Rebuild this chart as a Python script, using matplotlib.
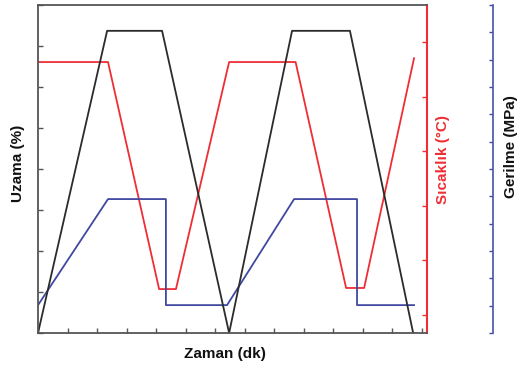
import numpy as np
import matplotlib
matplotlib.use('Agg')
import matplotlib.pyplot as plt

plt.rcParams['font.family'] = ['Liberation Sans', 'DejaVu Sans']

# Uzama (strain), left axis
uzama_t = [0, 2.34, 4.20, 6.47, 8.60, 10.56, 12.70]
uzama = [0, 7.37, 7.37, 0, 7.37, 7.37, 0]

# Sicaklik (temperature), red axis
sicaklik_t = [0, 2.37, 4.10, 4.67, 6.47, 8.72, 10.43, 11.04, 12.73]
sicaklik = [112.7, 112.7, 29.5, 29.5, 112.7, 112.7, 29.9, 29.9, 114.1]

# Gerilme (stress), blue axis
gerilme_t = [0, 2.37, 4.33, 4.33, 6.40, 8.67, 10.80, 10.80, 12.73]
gerilme = [1.02, 4.90, 4.90, 1.02, 1.02, 4.90, 4.90, 1.02, 1.02]

black = '#2b2b2b'
red = '#ee2e34'
blue = '#4048a0'
frame = '#555555'

W, H = 518, 367
fig = plt.figure(figsize=(W / 100, H / 100), dpi=100)
left, right, top, bottom = 38, 427, 5, 333
ax = fig.add_axes([left / W, 1 - bottom / H, (right - left) / W, (bottom - top) / H])

ax.plot(uzama_t, uzama, color=black, lw=1.3)
ax.set_xlim(0, (right - left) / 29.54)
ax.set_ylim(0, 8)
ax.set_xticks(np.arange(0, 14))
ax.set_yticks(np.arange(0, 9))
ax.tick_params(direction='in', length=3.5, width=1, color=frame,
               labelleft=False, labelbottom=False, right=False, top=False)
for s in ['left', 'bottom', 'top']:
    ax.spines[s].set_color(frame)
    ax.spines[s].set_linewidth(1.3)
ax.spines['right'].set_visible(False)

# red axis
ax2 = ax.twinx()
ax2.plot(sicaklik_t, sicaklik, color=red, lw=1.3)
ax2.set_ylim(13.4, 133.6)
ax2.set_yticks(np.arange(20, 121, 20))
ax2.tick_params(direction='in', length=3.5, width=1, color=red, labelright=False)
for s in ['left', 'bottom', 'top']:
    ax2.spines[s].set_visible(False)
ax2.spines['right'].set_color(red)
ax2.spines['right'].set_linewidth(1.5)

# blue axis
ax3 = ax.twinx()
ax3.plot(gerilme_t, gerilme, color=blue, lw=1.3)
ax3.set_ylim(0, 12)
ax3.set_yticks(np.arange(0, 13))
ax3.spines['right'].set_position(('axes', (493 - left) / (right - left)))
ax3.tick_params(direction='in', length=3, width=1, color=blue, labelright=False)
for s in ['left', 'bottom', 'top']:
    ax3.spines[s].set_visible(False)
ax3.spines['right'].set_color('#5560b0')
ax3.spines['right'].set_linewidth(1.3)

ax.set_zorder(3)
ax.patch.set_visible(False)

fs = 11
fig.text(18 / W, 1 - 163 / H, 'Uzama (%)', rotation=90, ha='center', va='center',
         fontsize=fs, fontweight='bold', color='#111111')
fig.text(443 / W, 1 - 160 / H, 'Sıcaklık (°C)', rotation=90, ha='center', va='center',
         fontsize=fs, fontweight='bold', color=red)
fig.text(511 / W, 1 - 147 / H, 'Gerilme (MPa)', rotation=90, ha='center', va='center',
         fontsize=fs, fontweight='bold', color='#111111')
fig.text(225 / W, 1 - 354 / H, 'Zaman (dk)', ha='center', va='center',
         fontsize=fs, fontweight='bold', color='#111111')

plt.savefig('out.png', dpi=100)
